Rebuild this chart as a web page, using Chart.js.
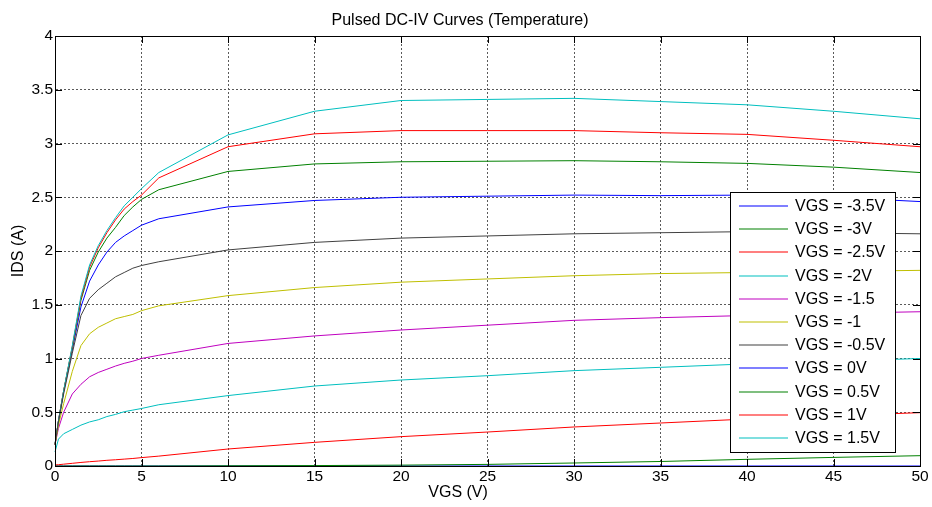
<!DOCTYPE html>
<html>
<head>
<meta charset="utf-8">
<script src="https://cdn.jsdelivr.net/npm/chart.js@4.4.1/dist/chart.umd.min.js"></script>
<style>
  html, body { margin: 0; padding: 0; background: #fff; }
  #wrap { width: 932px; height: 507px; }
</style>
</head>
<body>
<div id="wrap"><canvas id="ivChart" width="932" height="507"></canvas></div>
<script>
//---------------------- Data -----------------------//
const vds = [0, 0.2, 0.5, 1, 1.5, 2, 2.5, 3, 3.5, 4, 4.5, 5, 6, 10, 15, 20, 25, 30, 35, 40, 45, 50];

const labels = ['VGS = -3.5V', 'VGS = -3V', 'VGS = -2.5V', 'VGS = -2V', 'VGS = -1.5', 'VGS = -1',
  'VGS = -0.5V', 'VGS = 0V', 'VGS = 0.5V', 'VGS = 1V', 'VGS = 1.5V'];

const idsN35 = [0.2, 0.42, 0.69, 1.08, 1.48, 1.72, 1.87, 1.99, 2.08, 2.14, 2.19, 2.24, 2.30, 2.41, 2.47, 2.50, 2.51, 2.52, 2.515, 2.52, 2.50, 2.46];
const idsN30 = [0.2, 0.42, 0.70, 1.10, 1.54, 1.82, 1.99, 2.12, 2.22, 2.33, 2.41, 2.48, 2.57, 2.74, 2.81, 2.83, 2.835, 2.84, 2.83, 2.815, 2.78, 2.73];
const idsN25 = [0.2, 0.42, 0.70, 1.11, 1.56, 1.85, 2.03, 2.17, 2.29, 2.39, 2.46, 2.52, 2.68, 2.97, 3.09, 3.12, 3.12, 3.12, 3.10, 3.085, 3.03, 2.97];
const idsN20 = [0.2, 0.42, 0.70, 1.12, 1.58, 1.87, 2.05, 2.19, 2.31, 2.42, 2.50, 2.58, 2.73, 3.08, 3.30, 3.40, 3.41, 3.42, 3.39, 3.36, 3.30, 3.23];
const idsN15 = [0.2, 0.35, 0.50, 0.67, 0.76, 0.83, 0.87, 0.90, 0.93, 0.955, 0.975, 1.0, 1.03, 1.14, 1.21, 1.265, 1.31, 1.355, 1.38, 1.40, 1.42, 1.435];
const idsN10 = [0.2, 0.38, 0.58, 0.88, 1.12, 1.23, 1.29, 1.33, 1.37, 1.39, 1.41, 1.445, 1.49, 1.585, 1.66, 1.71, 1.74, 1.77, 1.79, 1.80, 1.81, 1.82];
const idsN05 = [0.2, 0.41, 0.67, 1.05, 1.40, 1.56, 1.64, 1.70, 1.76, 1.80, 1.84, 1.865, 1.90, 2.01, 2.08, 2.12, 2.14, 2.16, 2.17, 2.18, 2.17, 2.16];
const ids00  = [0, 0, 0, 0, 0, 0, 0, 0, 0, 0, 0, 0, 0, 0, 0, 0, 0, 0, 0, 0, 0, 0];
const ids05  = [0, 0, 0, 0, 0, 0, 0, 0, 0, 0, 0, 0, 0, 0.002, 0.004, 0.008, 0.015, 0.028, 0.042, 0.062, 0.08, 0.096];
const ids10  = [0.01, 0.012, 0.017, 0.025, 0.033, 0.04, 0.046, 0.053, 0.058, 0.064, 0.07, 0.078, 0.092, 0.158, 0.22, 0.273, 0.316, 0.363, 0.40, 0.437, 0.467, 0.496];
const ids15  = [0.13, 0.25, 0.30, 0.34, 0.38, 0.41, 0.43, 0.46, 0.48, 0.505, 0.52, 0.535, 0.57, 0.655, 0.744, 0.80, 0.84, 0.887, 0.918, 0.95, 0.975, 1.0];

const series = [idsN35, idsN30, idsN25, idsN20, idsN15, idsN10, idsN05, ids00, ids05, ids10, ids15];
const colors = ['#0000ff', '#008000', '#ff0000', '#00bfbf', '#bf00bf', '#bfbf00', '#404040',
  '#0000ff', '#008000', '#ff0000', '#00bfbf'];

const xTicks = [0, 5, 10, 15, 20, 25, 30, 35, 40, 45, 50];
const yTicks = [0, 0.5, 1, 1.5, 2, 2.5, 3, 3.5, 4];

const FONT = "'Liberation Sans', Arial, sans-serif";

//---------------------- Plugins -----------------------//
// box round the axes, inward ticks, x label, legend inside the plot
const matlabFrame = {
  id: 'matlabFrame',
  afterDraw(chart) {
    const ctx = chart.ctx;
    const a = chart.chartArea;
    const xs = chart.scales.x, ys = chart.scales.y;
    ctx.save();
    ctx.strokeStyle = '#000';
    ctx.lineWidth = 1;
    ctx.setLineDash([]);
    ctx.strokeRect(Math.round(a.left) + 0.5, Math.round(a.top) + 0.5,
      Math.round(a.right - a.left), Math.round(a.bottom - a.top));
    ctx.beginPath();
    xTicks.forEach(v => {
      const px = Math.round(xs.getPixelForValue(v)) + 0.5;
      ctx.moveTo(px, a.bottom); ctx.lineTo(px, a.bottom - 7);
      ctx.moveTo(px, a.top); ctx.lineTo(px, a.top + 7);
    });
    yTicks.forEach(v => {
      const py = Math.round(ys.getPixelForValue(v)) + 0.5;
      ctx.moveTo(a.left, py); ctx.lineTo(a.left + 7, py);
      ctx.moveTo(a.right, py); ctx.lineTo(a.right - 7, py);
    });
    ctx.stroke();

    // x axis label (sits left of the axis centre in the original)
    ctx.fillStyle = '#000';
    ctx.font = '16px ' + FONT;
    ctx.textAlign = 'center';
    ctx.textBaseline = 'middle';
    ctx.fillText('VGS (V)', xs.getPixelForValue(23.3), chart.height - 14);

    // legend
    const bw = 165, bh = 260;
    const bx = Math.round(a.right - 25 - bw), by = Math.round(a.bottom - 14 - bh);
    ctx.fillStyle = '#fff';
    ctx.fillRect(bx, by, bw, bh);
    ctx.strokeStyle = '#000';
    ctx.strokeRect(bx + 0.5, by + 0.5, bw, bh);
    ctx.textAlign = 'left';
    labels.forEach((txt, i) => {
      const y = Math.round(by + 14 + i * 23.2);
      ctx.beginPath();
      ctx.strokeStyle = colors[i];
      ctx.lineWidth = 1.2;
      ctx.moveTo(bx + 9, y);
      ctx.lineTo(bx + 58, y);
      ctx.stroke();
      ctx.fillStyle = '#000';
      ctx.fillText(txt, bx + 65, y + 1);
    });
    ctx.restore();
  }
};

//---------------------- Chart -----------------------//
const datasets = series.map((vals, i) => ({
  label: labels[i],
  data: vals.map((v, k) => ({ x: vds[k], y: v })),
  borderColor: colors[i],
  backgroundColor: colors[i],
  borderWidth: 1,
  pointRadius: 0,
  tension: 0,
  clip: 3,
  order: series.length - i
}));

const gridDash = { display: true, color: '#000', dash: [2, 2] };

new Chart(document.getElementById('ivChart'), {
  type: 'line',
  data: { datasets: datasets },
  plugins: [matlabFrame],
  options: {
    responsive: false,
    animation: false,
    layout: { padding: { left: 0, right: 12, top: 0, bottom: 0 } },
    plugins: {
      legend: { display: false },
      tooltip: { enabled: false },
      title: {
        display: true,
        text: 'Pulsed DC-IV Curves (Temperature)',
        color: '#000',
        font: { family: FONT, size: 16, weight: 'normal' },
        padding: { top: 11, bottom: 5.8 }
      }
    },
    scales: {
      x: {
        type: 'linear',
        min: 0, max: 50,
        afterBuildTicks: s => { s.ticks = xTicks.map(v => ({ value: v })); },
        afterFit: s => { s.height = 41; },
        ticks: { color: '#000', font: { family: FONT, size: 15.5 }, padding: 1, maxRotation: 0,
          callback: v => String(v) },
        grid: { color: '#5a5a5a', drawTicks: false, lineWidth: 1 },
        border: gridDash,
        title: { display: false }
      },
      y: {
        min: 0, max: 4,
        afterBuildTicks: s => { s.ticks = yTicks.map(v => ({ value: v })); },
        afterFit: s => { s.width = 55; },
        ticks: { color: '#000', font: { family: FONT, size: 15.5 }, padding: 2,
          callback: v => String(v) },
        grid: { color: '#5a5a5a', drawTicks: false, lineWidth: 1 },
        border: gridDash,
        title: {
          display: true, text: 'IDS (A)', color: '#000',
          font: { family: FONT, size: 16 }, padding: { top: 9, bottom: 0 }
        }
      }
    }
  }
});
</script>
</body>
</html>
